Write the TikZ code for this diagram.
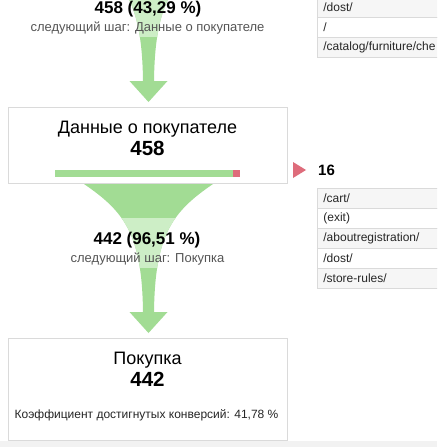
\documentclass[tikz,border=0pt]{standalone}
\usepackage{fontspec}
\setmainfont{Liberation Sans}
\definecolor{gdark}{HTML}{A2DC94}
\definecolor{glight}{HTML}{CDEEC6}
\definecolor{rd}{HTML}{DE6C7B}
\definecolor{bord}{HTML}{DADADA}
\definecolor{rowg}{HTML}{F6F6F6}
\definecolor{txtg}{HTML}{555555}
\definecolor{band}{HTML}{F2F2F2}
\tikzset{
  stepbox/.style={draw=bord, fill=white, line width=0.8pt, minimum width=279pt, inner sep=0pt},
  pct/.style={font=\fontsize{17}{19}\selectfont\bfseries, text=black, inner sep=0pt, anchor=base},
  nxt/.style={font=\fontsize{13}{15}\selectfont, text=txtg, inner sep=0pt, anchor=base},
  steplbl/.style={font=\fontsize{18}{20}\selectfont, text=black, inner sep=0pt, anchor=base},
  bignum/.style={font=\fontsize{20.5}{23}\selectfont\bfseries, text=black, inner sep=0pt, anchor=base},
  smalltxt/.style={font=\fontsize{12}{14}\selectfont, text=black!85, inner sep=0pt, anchor=base},
  exitnum/.style={font=\fontsize{15}{17}\selectfont\bfseries, text=black, inner sep=0pt, anchor=base west},
  pagerow/.style={draw=bord, line width=0.8pt, anchor=north west, minimum height=20pt, text width=118pt, inner xsep=6pt, inner ysep=0pt, align=left, font=\fontsize{12}{14}\selectfont, text=black!85},
}
\begin{document}
\begin{tikzpicture}[x=1pt,y=-1pt]
\useasboundingbox (0,0) rectangle (437,447);
\fill[white] (0,0) rectangle (437,447);
\fill[band] (0,441) rectangle (437,447);

% funnel arrows
\foreach \o in {-231,0}{
  \begin{scope}[shift={(0,\o)}]
    \fill[gdark] (84,184) .. controls (125,212) and (142,235) .. (143,312) -- (129.5,312) -- (148.5,333) -- (167.5,312) -- (154,312) .. controls (155,235) and (172,212) .. (213,184) -- cycle;
    \begin{scope}
      \clip (0,218) rectangle (437,267);
      \fill[glight] (84,184) .. controls (125,212) and (142,235) .. (143,312) -- (154,312) .. controls (155,235) and (172,212) .. (213,184) -- cycle;
    \end{scope}
  \end{scope}
}

% top texts
\node[pct] (p0) at (148,13.8) {458 (43,29 \%)};
\node[nxt] (x0) at (147.5,31) {следующий шаг: Данные о покупателе};

% box 1
\node[stepbox, minimum height=76pt] (box1) at (147.5,145) {};
\node[steplbl] (t1) at (147.5,133) {Данные о покупателе};
\node[bignum] (n1) at (147.5,155) {458};
\fill[gdark] (55,170) rectangle (233,177);
\fill[rd] (233,170) rectangle (240,177);

% middle texts
\node[pct] (p1) at (147,244.5) {442 (96,51 \%)};
\node[nxt] (x1) at (147.5,262) {следующий шаг: Покупка};

% box 3
\node[stepbox, minimum height=102pt] (box3) at (147.5,389) {};
\node[steplbl] (t2) at (147.5,364) {Покупка};
\node[bignum] (n2) at (147.5,386) {442};
\node[smalltxt] (c2) at (146.5,418) {Коэффициент достигнутых конверсий: 41,78 \%};

% exit marker
\fill[rd] (293,162) -- (306,170) -- (293,178) -- cycle;
\node[exitnum] (e1) at (318,175) {16};

% tables
\begin{scope}
\clip (0,0) rectangle (437,447);
\node[pagerow, fill=rowg] (a1) at (317,-3) {/dost/};
\node[pagerow, fill=white] (a2) at (317,17) {/};
\node[pagerow, fill=rowg] (a3) at (317,37) {/catalog/furniture/che};

\node[pagerow, fill=rowg] (b1) at (317,188) {/cart/};
\node[pagerow, fill=white] (b2) at (317,208) {(exit)};
\node[pagerow, fill=rowg] (b3) at (317,228) {/aboutregistration/};
\node[pagerow, fill=white] (b4) at (317,248) {/dost/};
\node[pagerow, fill=rowg] (b5) at (317,268) {/store-rules/};
\end{scope}
\end{tikzpicture}
\end{document}
